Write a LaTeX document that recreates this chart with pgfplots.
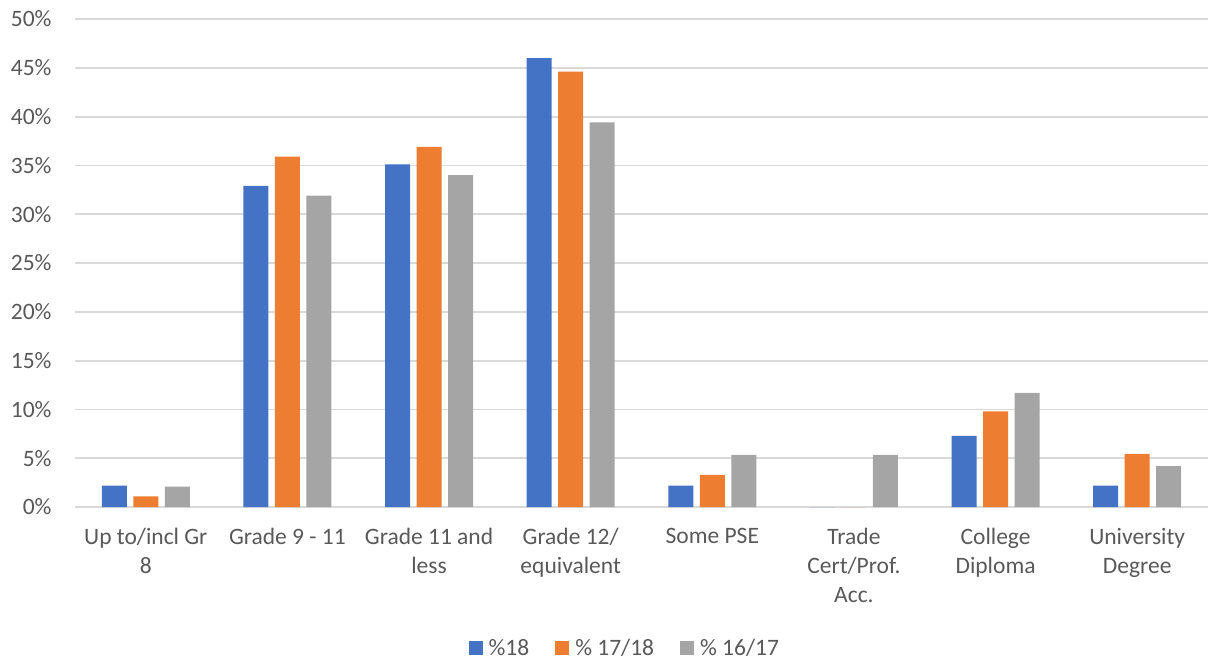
\documentclass[border=0pt]{standalone}
\usepackage{pgfplots}
\pgfplotsset{compat=1.18}
\usepackage{fontspec}
\setmainfont{Carlito}
\definecolor{cblue}{HTML}{4472C4}
\definecolor{corange}{HTML}{ED7D31}
\definecolor{cgray}{HTML}{A5A5A5}
\definecolor{cgrid}{HTML}{D9D9D9}
\definecolor{ctext}{HTML}{595959}

\begin{document}
\begin{tikzpicture}
\begin{axis}[
  name=ax,
  scale only axis,
  width=1133pt, height=488pt,
  ybar, bar width=25pt, ybar=6.5pt,
  ymin=0, ymax=50,
  ytick={0,5,...,50},
  yticklabel={\pgfmathprintnumber{\tick}\%},
  xmin=-0.5, xmax=7.5,
  xtick={0,...,7},
  xticklabels={
    {Up to/incl Gr\\8},
    {Grade 9 - 11},
    {Grade 11 and\\less},
    {Grade 12/\\equivalent},
    {Some PSE},
    {Trade\\Cert/Prof.\\Acc.},
    {College\\Diploma},
    {University\\Degree}},
  xticklabel style={align=center, font=\fontsize{23.5}{29}\selectfont, text=ctext, yshift=-18pt},
  yticklabel style={font=\fontsize{23.5}{25}\selectfont, text=ctext, xshift=-20pt},
  /pgf/number format/assume math mode=true,
  major tick length=0pt,
  ymajorgrids,
  grid style={cgrid, line width=1.8pt},
  axis x line*=bottom,
  axis y line*=left,
  x axis line style={cgrid, line width=1.8pt, -},
  y axis line style={draw=none},
  enlargelimits=false,
  clip=false,
  legend columns=3,
  legend style={draw=none, font=\fontsize{23.5}{25}\selectfont, text=ctext,
    at={(0.487,-0.289)}, anchor=center,
    /tikz/every even column/.append style={column sep=20pt},
    /tikz/every odd column/.append style={column sep=0pt},
    nodes={inner xsep=6pt}},
  legend image code/.code={\fill[#1,draw=none] (0pt,-7pt) rectangle (14pt,7pt);},
]
\addplot[fill=cblue, draw=none] coordinates {
  (0,2.2) (1,32.9) (2,35.1) (3,46.0) (4,2.2) (5,0) (6,7.3) (7,2.2)};
\addplot[fill=corange, draw=none] coordinates {
  (0,1.1) (1,35.9) (2,36.9) (3,44.6) (4,3.3) (5,0) (6,9.8) (7,5.45)};
\addplot[fill=cgray, draw=none] coordinates {
  (0,2.1) (1,31.9) (2,34.0) (3,39.4) (4,5.35) (5,5.35) (6,11.7) (7,4.2)};
\legend{\%18, \% 17/18, \% 16/17}
\end{axis}
\pgfresetboundingbox
\path ([xshift=-75pt,yshift=-155pt]ax.south west) rectangle ([yshift=19pt]ax.north east);
\end{tikzpicture}
\end{document}
